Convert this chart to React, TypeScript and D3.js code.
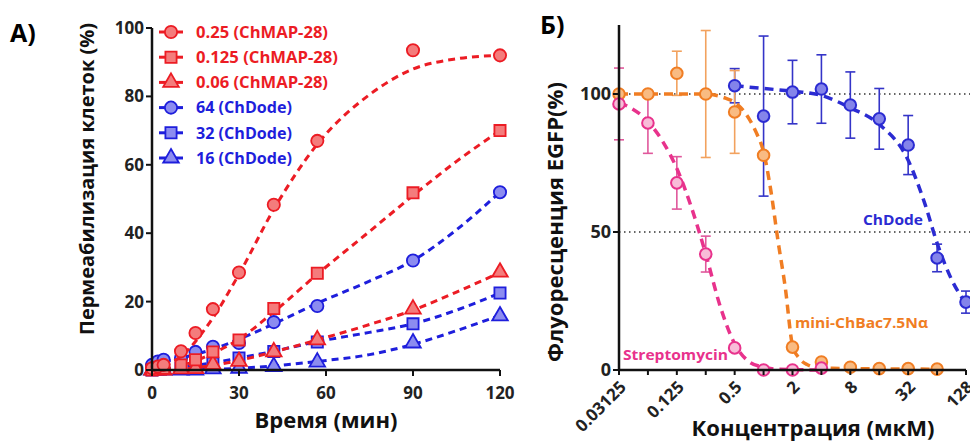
import React from "react";
import * as d3 from "d3";

const W = 970;
const H = 442;
const FONT = "'Open Sans', 'DejaVu Sans', sans-serif";

// ---- panel A: permeabilization vs time ----
const times = [0, 2, 4, 10, 15, 21, 30, 42, 57, 90, 120];
const map025 = [0.5, 1, 1.5, 5.5, 10.8, 17.8, 28.5, 48.3, 67, 93.5, 92];
const map0125 = [0, 0.5, 0.5, 1.5, 3, 5.3, 8.8, 18, 28.3, 51.8, 70];
const map006 = [0, 0, 0, 0.3, 0.4, 1.6, 2.5, 5.3, 8.8, 17.8, 28.6];
const dode64 = [1.5, 2.5, 3, 3.5, 5.3, 6.8, 7.9, 14, 18.7, 32, 52];
const dode32 = [0, 0.3, 0.5, 0.5, 1, 2, 3.5, 5.4, 8.2, 13.5, 22.5];
const dode16 = [0, 0, 0, 0, 0, 0.3, 0.5, 1, 2.3, 7.9, 15.8];

// fitted curves
const fitTimes = [0, 10, 20, 30, 42, 57, 75, 90, 105, 120];
const fit025 = [0.3, 4, 14, 28, 47, 66, 80.5, 88, 91, 92];
const fit0125 = [0, 1.2, 4.5, 9, 17, 28, 40.5, 51, 61, 70];
const fit006 = [0, 0.3, 1.2, 2.8, 5.3, 8.8, 13.3, 17.5, 22.8, 28.5];
const fit64 = [1.8, 3.5, 5.8, 9, 13.5, 19.5, 26, 32, 41, 52];
const fit32 = [0, 0.8, 2, 3.5, 5.5, 8.3, 11, 13.5, 17.5, 22.5];
const fit16 = [0, 0, 0.2, 0.5, 1.2, 2.5, 4.5, 7.5, 11.5, 16];

const timeTicks = [0, 30, 60, 90, 120];
const permTicks = [0, 20, 40, 60, 80, 100];

// ---- panel B: EGFP fluorescence vs concentration ----
const concStrep = [0.03125, 0.0625, 0.125, 0.25, 0.5, 1, 2, 4];
const strepVals = [96.4, 89.5, 67.8, 42, 8, 0, 0, 0.7];
const strepErr = [13, 11, 9.5, 6.5, 0, 0, 0, 0];
const concBac = [0.03125, 0.0625, 0.125, 0.25, 0.5, 1, 2, 4, 8, 16, 32, 64];
const bacVals = [100, 100, 107.5, 100, 93.5, 77.8, 8.3, 2.9, 1, 0.5, 0.5, 0.3];
const bacErr = [0, 0, 8, 23, 15, 0, 0, 0, 0, 0, 0, 0];
const concDode = [0.5, 1, 2, 4, 8, 16, 32, 64, 128];
const dodeVals = [103, 92, 100.7, 101.8, 96, 91, 81.5, 40.6, 24.6];
const dodeErr = [6.2, 29, 11.5, 12.4, 12, 11, 10.7, 5, 4];

const strepFitX = [0.03125, 0.0625, 0.0884, 0.125, 0.177, 0.25, 0.354, 0.5, 0.707, 1, 1.41, 4];
const strepFitY = [97, 90, 83, 73, 59, 42, 23, 9.5, 3, 1, 0.3, 0];
const bacFitX = [0.03125, 0.25, 0.4, 0.5, 0.707, 0.84, 1, 1.19, 1.41, 1.68, 2, 2.38, 2.83, 4, 64];
const bacFitY = [100, 100, 98.5, 97, 91, 86, 79, 65, 47, 30, 9, 4, 2, 0.7, 0.3];
const dodeFitX = [0.5, 1, 2, 4, 8, 16, 32, 48, 64, 90, 128];
const dodeFitY = [103, 102, 101, 99.5, 95, 89, 76, 60, 46, 33, 24];

const concTicks = [0.03125, 0.0625, 0.125, 0.25, 0.5, 1, 2, 4, 8, 16, 32, 64, 128];
const concLabels = ["0.03125", "0.125", "0.5", "2", "8", "32", "128"];
const fluoTicks = [0, 50, 100];
const refLines = [50, 100];

const RED = "#ec1c24";
const RED_FILL = "#f47c7c";
const BLUE = "#1e1edc";
const BLUE_FILL = "#8c8cf0";
const PINK = "#e8328c";
const PINK_FILL = "#f8bcd8";
const ORANGE = "#f07d23";
const ORANGE_FILL = "#f9bb82";
const DBLUE = "#2b2bd2";
const DBLUE_FILL = "#8484ea";

const xA = d3.scaleLinear().domain([0, 120]).range([152, 500]);
const yA = d3.scaleLinear().domain([0, 100]).range([370, 28]);
const xB = d3.scaleLog().base(2).domain([0.03125, 128]).range([619, 966]);
const yB = d3.scaleLinear().domain([0, 125]).range([370, 25]);

const shapes = {
  circle: d3.symbol().type(d3.symbolCircle).size(118)(),
  square: d3.symbol().type(d3.symbolSquare).size(125)(),
  triangle: d3.symbol().type(d3.symbolTriangle).size(105)(),
};

const seriesA = [
  { label: "0.25 (ChMAP-28)", vals: map025, fit: fit025, shape: "circle", c: RED, f: RED_FILL, w: 132 },
  { label: "0.125 (ChMAP-28)", vals: map0125, fit: fit0125, shape: "square", c: RED, f: RED_FILL, w: 142 },
  { label: "0.06 (ChMAP-28)", vals: map006, fit: fit006, shape: "triangle", c: RED, f: RED_FILL, w: 132 },
  { label: "64 (ChDode)", vals: dode64, fit: fit64, shape: "circle", c: BLUE, f: BLUE_FILL, w: 96 },
  { label: "32 (ChDode)", vals: dode32, fit: fit32, shape: "square", c: BLUE, f: BLUE_FILL, w: 96 },
  { label: "16 (ChDode)", vals: dode16, fit: fit16, shape: "triangle", c: BLUE, f: BLUE_FILL, w: 96 },
];

const seriesB = [
  { x: concDode, y: dodeVals, e: dodeErr, fx: dodeFitX, fy: dodeFitY, c: DBLUE, f: DBLUE_FILL, ec: "#3434c8" },
  { x: concBac, y: bacVals, e: bacErr, fx: bacFitX, fy: bacFitY, c: ORANGE, f: ORANGE_FILL, ec: "#f2a25e" },
  { x: concStrep, y: strepVals, e: strepErr, fx: strepFitX, fy: strepFitY, c: PINK, f: PINK_FILL, ec: "#e0589c" },
];

const lineA = d3
  .line<number>()
  .x((_, i) => xA(fitTimes[i]))
  .y((d) => yA(d))
  .curve(d3.curveMonotoneX);

export default function App() {
  const drawOrderA = [5, 4, 3, 2, 1, 0];
  return (
    <svg width={W} height={H} style={{ position: "absolute", left: 0, top: 0, background: "#fff" }} fontFamily={FONT}>
      {/* ===== Panel A ===== */}
      <text x={10} y={42} fontSize={25} fontWeight={700}>А)</text>

      {drawOrderA.map((k) => {
        const s = seriesA[k];
        return (
          <g key={"a" + k}>
            <path d={lineA(s.fit) || ""} fill="none" stroke={s.c} strokeWidth={3} strokeDasharray="7,5" />
            {s.vals.map((v, i) => (
              <path
                key={i}
                d={shapes[s.shape]}
                transform={`translate(${xA(times[i])},${yA(v)})`}
                fill={s.f}
                stroke={s.c}
                strokeWidth={1.8}
              />
            ))}
          </g>
        );
      })}

      {/* axes A */}
      <line x1={152} x2={152} y1={yA(100)} y2={371} stroke="#111" strokeWidth={2.5} />
      <line x1={151} x2={xA(120)} y1={370} y2={370} stroke="#111" strokeWidth={2.5} />
      {permTicks.map((t) => (
        <g key={"py" + t}>
          <line x1={146} x2={152} y1={yA(t)} y2={yA(t)} stroke="#111" strokeWidth={2} />
          <text x={144} y={yA(t)} dy="0.35em" textAnchor="end" fontSize={17} fontWeight={700} fill="#222">
            {t}
          </text>
        </g>
      ))}
      {timeTicks.map((t) => (
        <g key={"tx" + t}>
          <line x1={xA(t)} x2={xA(t)} y1={370} y2={376} stroke="#111" strokeWidth={2} />
          <text x={xA(t)} y={399} textAnchor="middle" fontSize={17} fontWeight={700} fill="#222">
            {t}
          </text>
        </g>
      ))}
      <text x={326} y={428} textAnchor="middle" fontSize={21} fontWeight={700} fill="#111" textLength={143} lengthAdjust="spacingAndGlyphs">
        Время (мин)
      </text>
      <text
        transform="translate(94,179) rotate(-90)"
        textAnchor="middle"
        fontSize={20}
        fontWeight={700}
        fill="#111"
        textLength={312}
        lengthAdjust="spacingAndGlyphs"
      >
        Пермеабилизация клеток (%)
      </text>

      {/* legend A */}
      {seriesA.map((s, i) => {
        const y = 32 + i * 25.2;
        return (
          <g key={"lg" + i}>
            <line x1={159} x2={183} y1={y} y2={y} stroke={s.c} strokeWidth={3} />
            <path d={shapes[s.shape]} transform={`translate(171,${y})`} fill={s.f} stroke={s.c} strokeWidth={1.8} />
            <text x={196} y={y} dy="0.36em" fontSize={16} fontWeight={700} fill={s.c} textLength={s.w} lengthAdjust="spacingAndGlyphs">
              {s.label}
            </text>
          </g>
        );
      })}

      {/* ===== Panel B ===== */}
      <text x={540} y={34} fontSize={25} fontWeight={700}>Б)</text>

      {refLines.map((r) => (
        <line key={"ref" + r} x1={619} x2={970} y1={yB(r)} y2={yB(r)} stroke="#333" strokeWidth={1.5} strokeDasharray="1.5,3.5" />
      ))}

      {seriesB.map((s, k) => (
        <g key={"eb" + k}>
          {s.x.map((c, i) =>
            s.e[i] > 0 ? (
              <g key={i}>
                <line x1={xB(c)} x2={xB(c)} y1={yB(s.y[i] + s.e[i])} y2={yB(s.y[i] - s.e[i])} stroke={s.ec} strokeWidth={1.6} />
                <line x1={xB(c) - 5} x2={xB(c) + 5} y1={yB(s.y[i] + s.e[i])} y2={yB(s.y[i] + s.e[i])} stroke={s.ec} strokeWidth={1.6} />
                <line x1={xB(c) - 5} x2={xB(c) + 5} y1={yB(s.y[i] - s.e[i])} y2={yB(s.y[i] - s.e[i])} stroke={s.ec} strokeWidth={1.6} />
              </g>
            ) : null
          )}
        </g>
      ))}

      {seriesB.map((s, k) => {
        const line = d3
          .line<number>()
          .x((_, i) => xB(s.fx[i]))
          .y((d) => yB(d))
          .curve(d3.curveMonotoneX);
        return (
          <g key={"sb" + k}>
            <path d={line(s.fy) || ""} fill="none" stroke={s.c} strokeWidth={3.5} strokeDasharray="9,6" />
            {s.x.map((c, i) => (
              <circle key={i} cx={xB(c)} cy={yB(s.y[i])} r={5.8} fill={s.f} stroke={s.c} strokeWidth={2} />
            ))}
          </g>
        );
      })}

      {/* axes B */}
      <line x1={619} x2={619} y1={yB(125)} y2={371} stroke="#111" strokeWidth={2.5} />
      <line x1={618} x2={xB(128)} y1={370} y2={370} stroke="#111" strokeWidth={2.5} />
      {fluoTicks.map((t) => (
        <g key={"fy" + t}>
          <line x1={613} x2={619} y1={yB(t)} y2={yB(t)} stroke="#111" strokeWidth={2} />
          <text x={611} y={yB(t)} dy="0.35em" textAnchor="end" fontSize={18} fontWeight={700} fill="#222">
            {t}
          </text>
        </g>
      ))}
      {concTicks.map((t) => (
        <line key={"cx" + t} x1={xB(t)} x2={xB(t)} y1={370} y2={375} stroke="#111" strokeWidth={2} />
      ))}
      {concLabels.map((l) => (
        <text
          key={"cl" + l}
          transform={`translate(${xB(+l) + 4},${384}) rotate(-45)`}
          textAnchor="end"
          dy="0.35em"
          fontSize={17}
          fontWeight={700}
          fill="#222"
        >
          {l}
        </text>
      ))}
      <text x={813} y={436} textAnchor="middle" fontSize={22} fontWeight={700} fill="#111" textLength={243} lengthAdjust="spacingAndGlyphs">
        Концентрация (мкМ)
      </text>
      <text
        transform="translate(563,222) rotate(-90)"
        textAnchor="middle"
        fontSize={22}
        fontWeight={700}
        fill="#111"
        textLength={280}
        lengthAdjust="spacingAndGlyphs"
      >
        Флуоресценция EGFP(%)
      </text>

      <text x={863} y={225} fontSize={14} fontWeight={700} fill={DBLUE} textLength={60} lengthAdjust="spacingAndGlyphs">ChDode</text>
      <text x={795} y={328} fontSize={15} fontWeight={700} fill={ORANGE} textLength={133} lengthAdjust="spacingAndGlyphs">mini-ChBac7.5Nα</text>
      <text x={623} y={360} fontSize={14} fontWeight={700} fill={PINK} textLength={105} lengthAdjust="spacingAndGlyphs">Streptomycin</text>
    </svg>
  );
}
